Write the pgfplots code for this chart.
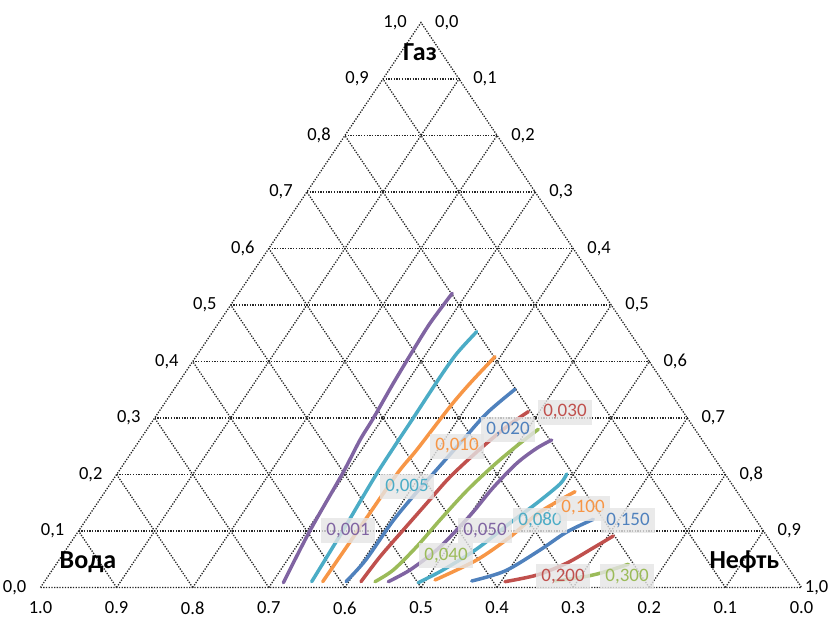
\documentclass[border=0pt]{standalone}
\usepackage{pgfplots}
\pgfplotsset{compat=1.18}
\usepackage{fontspec}
\setmainfont{Carlito}
\definecolor{xblue}{HTML}{4F81BD}
\definecolor{xred}{HTML}{C0504D}
\definecolor{xgreen}{HTML}{9BBB59}
\definecolor{xpurple}{HTML}{8064A2}
\definecolor{xaqua}{HTML}{4BACC6}
\definecolor{xorange}{HTML}{F79646}
\tikzset{
  gridl/.style={black!85, line width=1.3bp, dash pattern=on 1.3bp off 1.4bp},
  iso/.style={line width=3.5bp, smooth, line cap=round, line join=round},
  tick/.style={inner sep=0pt, font=\fontsize{18.5bp}{21bp}\selectfont},
  lab/.style={font=\fontsize{19bp}{21bp}\selectfont, fill=black!10, fill opacity=0.8, text opacity=1,
              inner xsep=5bp, inner ysep=5bp, text height=12bp, text depth=3bp},
  vert/.style={font=\fontsize{26bp}{29bp}\selectfont\bfseries, inner sep=0pt}
}
\begin{document}
\begin{tikzpicture}
\path[use as bounding box] (0,0) rectangle (829bp,619bp);
\begin{axis}[
  at={(40.5bp,31.5bp)}, anchor=south west,
  scale only axis, width=761bp, height=565bp,
  xmin=0, xmax=1, ymin=0, ymax=1,
  hide axis, clip=false]
% grid
\draw[gridl] (axis cs:0,0) -- (axis cs:1,0) -- (axis cs:0.5,1) -- cycle;
\pgfplotsinvokeforeach{1,...,9}{
  \draw[gridl] (axis cs:{#1/20},{#1/10}) -- (axis cs:{1-#1/20},{#1/10});
  \draw[gridl] (axis cs:{#1/10},0) -- (axis cs:{0.5+#1/20},{1-#1/10});
  \draw[gridl] (axis cs:{1-#1/10},0) -- (axis cs:{0.5-#1/20},{1-#1/10});
}
% tick labels
\pgfplotsinvokeforeach{0,...,9}{
  \node[tick, anchor=east, xshift=-14bp] at (axis cs:{#1/20},{#1/10}) {0,#1};
  \node[tick, anchor=west, xshift=14bp] at (axis cs:{0.5+#1/20},{1-#1/10}) {0,#1};
  \node[tick, anchor=center, yshift=-20.5bp] at (axis cs:{1-#1/10},0) {0.#1};
}
\node[tick, anchor=east, xshift=-14bp] at (axis cs:0.5,1) {1,0};
\node[tick, anchor=east, xshift=27bp] at (axis cs:1,0) {1,0};
\node[tick, anchor=center, yshift=-20.5bp] at (axis cs:0,0) {1.0};
% vertex names
\node[vert] at (axis cs:0.4987,0.948) {Газ};
\node[vert] at (axis cs:0.0624,0.0455) {Вода};
\node[vert] at (axis cs:0.925,0.0455) {Нефть};
% isolines (oil fraction, gas fraction)
\addplot[xpurple, iso] table[x expr=\thisrow{oil}+0.5*\thisrow{gas}, y=gas] {
oil gas
0.3149 0.0085
0.3038 0.1005
0.2960 0.2021
0.2893 0.2611
0.2876 0.2995
0.2829 0.3614
0.2797 0.4204
0.2780 0.4676
0.2807 0.5207
};
\addplot[xaqua, iso] table[x expr=\thisrow{oil}+0.5*\thisrow{gas}, y=gas] {
oil gas
0.3512 0.0103
0.3470 0.1018
0.3439 0.1519
0.3411 0.2021
0.3402 0.2487
0.3398 0.2995
0.3388 0.3731
0.3400 0.4145
0.3468 0.4527
};
\addplot[xorange, iso] table[x expr=\thisrow{oil}+0.5*\thisrow{gas}, y=gas] {
oil gas
0.3657 0.0103
0.3667 0.1062
0.3680 0.2021
0.3726 0.2434
0.3781 0.3200
0.3837 0.3614
0.3930 0.4085
};
\addplot[xblue, iso] table[x expr=\thisrow{oil}+0.5*\thisrow{gas}, y=gas] {
oil gas
0.3963 0.0103
0.4030 0.0487
0.4040 0.1136
0.4081 0.1549
0.4145 0.1973
0.4236 0.2552
0.4322 0.3083
0.4481 0.3508
};
\addplot[xred, iso] table[x expr=\thisrow{oil}+0.5*\thisrow{gas}, y=gas] {
oil gas
0.4160 0.0103
0.4189 0.0545
0.4258 0.1018
0.4330 0.1490
0.4403 0.1956
0.4550 0.2451
0.4703 0.2846
0.4854 0.3112
};
\addplot[xgreen, iso] table[x expr=\thisrow{oil}+0.5*\thisrow{gas}, y=gas] {
oil gas
0.4344 0.0103
0.4481 0.0310
0.4582 0.0722
0.4652 0.1195
0.4748 0.1726
0.4886 0.2198
0.5025 0.2552
0.5141 0.2800
};
\addplot[xpurple, iso] table[x expr=\thisrow{oil}+0.5*\thisrow{gas}, y=gas] {
oil gas
0.4519 0.0103
0.4700 0.0310
0.4874 0.0664
0.4960 0.1018
0.5019 0.1354
0.5063 0.1761
0.5159 0.2198
0.5288 0.2464
0.5412 0.2611
};
\addplot[xaqua, iso] table[x expr=\thisrow{oil}+0.5*\thisrow{gas}, y=gas] {
oil gas
0.4922 0.0085
0.5134 0.0310
0.5391 0.0681
0.5599 0.1142
0.5776 0.1496
0.5911 0.1832
0.5910 0.2009
};
\addplot[xorange, iso] table[x expr=\thisrow{oil}+0.5*\thisrow{gas}, y=gas] {
oil gas
0.5118 0.0133
0.5489 0.0487
0.5723 0.0894
0.5874 0.1301
0.6053 0.1549
0.6176 0.1696
};
\addplot[xblue, iso] table[x expr=\thisrow{oil}+0.5*\thisrow{gas}, y=gas] {
oil gas
0.5609 0.0115
0.5958 0.0292
0.6232 0.0664
0.6424 0.0982
0.6661 0.1207
};
\addplot[xred, iso] table[x expr=\thisrow{oil}+0.5*\thisrow{gas}, y=gas] {
oil gas
0.6052 0.0103
0.6414 0.0221
0.6702 0.0434
0.6911 0.0699
0.7071 0.0912
};
\addplot[xgreen, iso] table[x expr=\thisrow{oil}+0.5*\thisrow{gas}, y=gas] {
oil gas
0.6703 0.0115
0.7036 0.0186
0.7247 0.0262
0.7519 0.0411
};
% isoline labels
\node[lab, text=xpurple] at (axis cs:0.4041,0.1000) {0,001};
\node[lab, text=xaqua]   at (axis cs:0.4816,0.1779) {0,005};
\node[lab, text=xorange] at (axis cs:0.5473,0.2504) {0,010};
\node[lab, text=xblue]   at (axis cs:0.6143,0.2788) {0,020};
\node[lab, text=xred]    at (axis cs:0.6892,0.3106) {0,030};
\node[lab, text=xgreen]  at (axis cs:0.5329,0.0558) {0,040};
\node[lab, text=xpurple] at (axis cs:0.5841,0.1000) {0,050};
\node[lab, text=xaqua]   at (axis cs:0.6564,0.1177) {0,080};
\node[lab, text=xorange] at (axis cs:0.7129,0.1407) {0,100};
\node[lab, text=xblue]   at (axis cs:0.7720,0.1177) {0,150};
\node[lab, text=xred]    at (axis cs:0.6866,0.0186) {0,200};
\node[lab, text=xgreen]  at (axis cs:0.7707,0.0186) {0,300};
\end{axis}
\end{tikzpicture}
\end{document}
